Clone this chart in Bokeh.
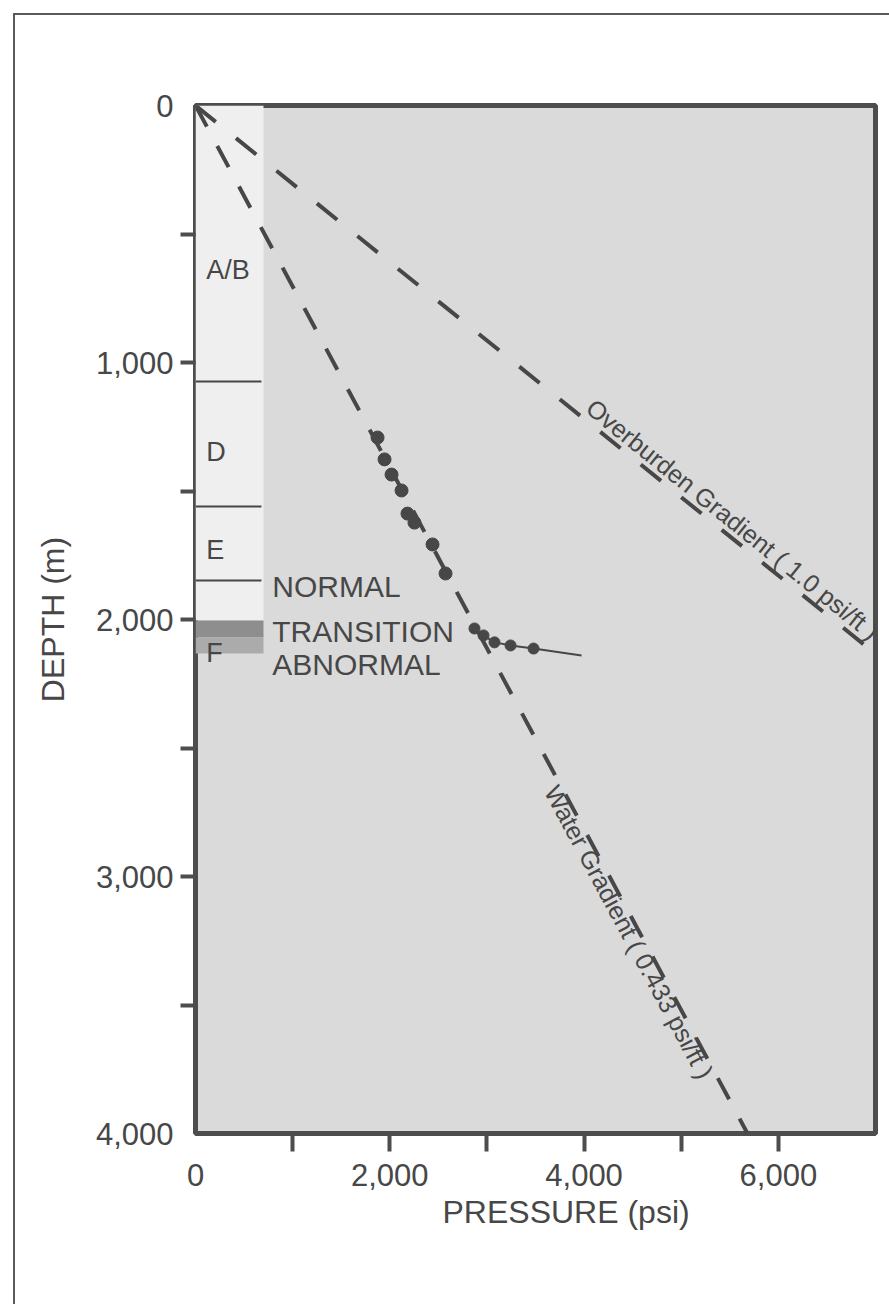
import math
from bokeh.plotting import figure
from bokeh.models import Range1d, FixedTicker, Label, Title, CustomJSTickFormatter
from bokeh.embed import file_html
from bokeh.resources import INLINE

# ---------------- data ----------------
FT_PER_M = 3.28084
water_gradient_psi_ft = 0.433
overburden_gradient_psi_ft = 1.0

depth_span = [0, 4000]          # m
pressure_span = [0, 7000]       # psi

normal_pressure = [1874, 1946, 2018, 2121, 2182, 2254, 2440, 2574]
normal_depth = [1292, 1377, 1436, 1498, 1588, 1623, 1708, 1821]

abnormal_pressure = [2872, 2965, 3078, 3243, 3480]
abnormal_depth = [2035, 2062, 2089, 2101, 2113]
trend_end = (3974, 2140)

zone_names = ["A/B", "D", "E", "F"]
zone_label_depth = [640, 1350, 1730, 2130]
zone_boundaries = [1074, 1560, 1848]
strip_width_psi = 700
strip_bottom = 2004
transition_band = (2004, 2070)
abnormal_band = (2070, 2132)

status_names = ["NORMAL", "TRANSITION", "ABNORMAL"]
status_depth = [1872, 2047, 2175]

x_label_ticks = [0, 2000, 4000, 6000]
x_minor_ticks = [1000, 2000, 3000, 4000, 5000, 6000]
y_label_ticks = [0, 1000, 2000, 3000, 4000]
y_minor_ticks = [500, 1000, 1500, 2000, 2500, 3000, 3500]

# ---------------- figure ----------------
W, H = 889, 1304
ML, MR, MT, MB = 195, 14, 105, 171
FONT = "Liberation Sans"
INK = "#474747"

p = figure(width=W, height=H, output_backend="svg", toolbar_location=None,
           x_range=Range1d(*pressure_span), y_range=Range1d(depth_span[1], depth_span[0]),
           min_border_left=ML, min_border_right=MR, min_border_top=MT, min_border_bottom=MB)
p.background_fill_color = "#dadada"
p.border_fill_color = None
p.outline_line_color = "#4d4d4d"
p.outline_line_width = 5
p.grid.visible = False
p.styles = {
    "background": "linear-gradient(#5a5a5a,#5a5a5a) 13px 13px / 2px 100% no-repeat,"
                  "linear-gradient(#5a5a5a,#5a5a5a) 13px 13px / 100% 2px no-repeat, #ffffff"
}

frame_w = W - ML - MR
frame_h = H - MT - MB
px_per_psi = frame_w / (pressure_span[1] - pressure_span[0])
px_per_m = frame_h / (depth_span[1] - depth_span[0])

# zone strip
p.quad(left=[0], right=[strip_width_psi], top=[0], bottom=[strip_bottom],
       fill_color="#efefef", line_color=None)
p.quad(left=[0], right=[strip_width_psi], top=[transition_band[0]], bottom=[transition_band[1]],
       fill_color="#8e8e8e", line_color=None)
p.quad(left=[0], right=[strip_width_psi], top=[abnormal_band[0]], bottom=[abnormal_band[1]],
       fill_color="#ababab", line_color=None)
p.segment(x0=[0] * len(zone_boundaries), x1=[strip_width_psi * 0.97] * len(zone_boundaries),
          y0=zone_boundaries, y1=zone_boundaries, line_color=INK, line_width=2)

# gradient lines
wg = water_gradient_psi_ft * FT_PER_M      # psi per m
og = overburden_gradient_psi_ft * FT_PER_M
water_x = [wg * d for d in depth_span]
over_end_depth = pressure_span[1] / og
p.line(water_x, depth_span, line_color=INK, line_width=4, line_dash="24 22")
p.line([0, pressure_span[1]], [0, over_end_depth], line_color=INK, line_width=4, line_dash="26 26")

# measured pressures
p.line(abnormal_pressure + [trend_end[0]], abnormal_depth + [trend_end[1]],
       line_color=INK, line_width=2)
p.scatter(normal_pressure, normal_depth, size=13, color=INK)
p.scatter(abnormal_pressure, abnormal_depth, size=11, color=INK)

# labels along lines
def line_angle(g):
    return -math.atan2(px_per_m, g * px_per_psi)

wa = line_angle(wg)
oa = line_angle(og)
wd = 3200
p.add_layout(Label(x=wg * wd, y=wd, text="Water Gradient ( 0.433 psi/ft )", angle=wa,
                   text_align="center", text_baseline="middle", x_offset=-8, y_offset=-4,
                   text_font=FONT, text_font_size="25px", text_color=INK))
od = 1657
p.add_layout(Label(x=og * od, y=od, text="Overburden Gradient ( 1.0 psi/ft )", angle=oa,
                   text_align="center", text_baseline="middle", x_offset=9, y_offset=12,
                   text_font=FONT, text_font_size="25px", text_color=INK))

for name, d in zip(zone_names, zone_label_depth):
    p.add_layout(Label(x=110, y=d, text=name, text_align="left", text_baseline="middle",
                       text_font=FONT, text_font_size="27px", text_color=INK))
for name, d in zip(status_names, status_depth):
    p.add_layout(Label(x=790, y=d, text=name, text_align="left", text_baseline="middle",
                       text_font=FONT, text_font_size="30px", text_color=INK))

# axes
fmt = CustomJSTickFormatter(code="return tick.toLocaleString('en-US');")
for ax, majors, minors in ((p.xaxis[0], x_label_ticks, x_minor_ticks),
                           (p.yaxis[0], y_label_ticks, y_minor_ticks)):
    ax.ticker = FixedTicker(ticks=majors, minor_ticks=minors)
    ax.formatter = fmt
    ax.axis_line_color = None
    ax.major_tick_line_color = None
    ax.minor_tick_line_color = "#4d4d4d"
    ax.minor_tick_line_width = 4
    ax.minor_tick_in = 0
    ax.major_tick_in = 0
    ax.major_label_text_font = FONT
    ax.major_label_text_font_size = "31px"
    ax.major_label_text_color = INK
    ax.axis_label_text_font = FONT
    ax.axis_label_text_font_size = "32px"
    ax.axis_label_text_font_style = "normal"
    ax.axis_label_text_color = INK

p.xaxis.minor_tick_out = 18
p.xaxis.major_tick_out = 18
p.xaxis.major_label_standoff = 12

# x-axis title: a "below" title, nudged right of centre as in the original
p.add_layout(Title(text="PRESSURE (psi)", align="left", offset=247, standoff=6,
                   text_font=FONT, text_font_size="32px", text_font_style="normal",
                   text_color=INK), "below")

p.yaxis.minor_tick_out = 15
p.yaxis.major_tick_out = 15
p.yaxis.major_label_standoff = 7
p.yaxis.axis_label = "DEPTH (m)"
p.yaxis.axis_label_standoff = 22

open("out.html", "w").write(file_html(p, INLINE))
